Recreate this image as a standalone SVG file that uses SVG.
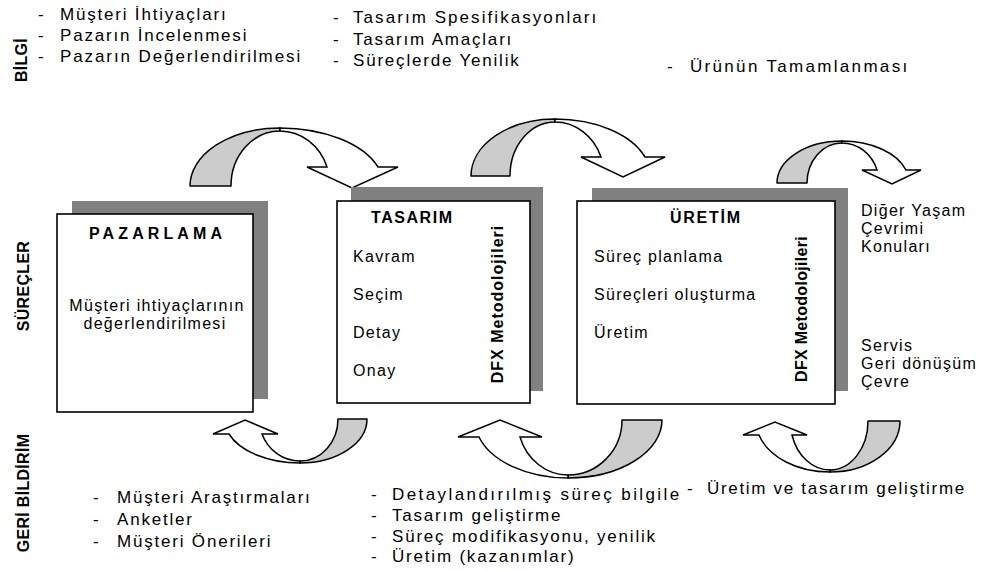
<svg xmlns="http://www.w3.org/2000/svg" width="983" height="571" viewBox="0 0 983 571">
<style>
text{font-family:"Liberation Sans",Arial,sans-serif;fill:#000}
.lst{font-size:17px;letter-spacing:1.8px}
.bx{font-size:16px;letter-spacing:1.3px}
.hd{font-size:16px;font-weight:bold}
.vl{font-size:16px;font-weight:bold;letter-spacing:0.3px}
.dfx{font-size:16px;font-weight:bold;letter-spacing:1px}
.shadow{fill:#808080}
.box{fill:#fff;stroke:#000;stroke-width:1.6}
.back{fill:#cccccc;stroke:#000;stroke-width:1.5;stroke-linejoin:round}
.front{fill:#fff;stroke:#000;stroke-width:1.5;stroke-linejoin:miter}
</style>
<rect width="983" height="571" fill="#fff"/>

<g id="labels">
<text class="vl" transform="translate(27,60) rotate(-90)" text-anchor="middle">BİLGİ</text>
<text class="vl" transform="translate(29,286) rotate(-90)" text-anchor="middle">SÜREÇLER</text>
<text class="vl" transform="translate(29,493) rotate(-90)" text-anchor="middle">GERİ BİLDİRİM</text>
</g>

<g id="info-market">
<text class="lst" x="38" y="20">-</text><text class="lst" x="60" y="20">Müşteri İhtiyaçları</text>
<text class="lst" x="38" y="41">-</text><text class="lst" x="60" y="41">Pazarın İncelenmesi</text>
<text class="lst" x="38" y="62">-</text><text class="lst" x="60" y="62" textLength="242" lengthAdjust="spacing">Pazarın Değerlendirilmesi</text>
</g>
<g id="info-design">
<text class="lst" x="333" y="23">-</text><text class="lst" x="353" y="23" textLength="245" lengthAdjust="spacing">Tasarım Spesifikasyonları</text>
<text class="lst" x="333" y="45">-</text><text class="lst" x="353" y="45">Tasarım Amaçları</text>
<text class="lst" x="333" y="66">-</text><text class="lst" x="353" y="66">Süreçlerde Yenilik</text>
</g>
<g id="info-product">
<text class="lst" x="667" y="72">-</text><text class="lst" x="690" y="72" textLength="219" lengthAdjust="spacing">Ürünün Tamamlanması</text>
</g>

<g id="connectors">
<path class="back" d="M190,186 A90,58 0 0 1 280,128 L280,131 A49,55 0 0 0 231,186 Z"/>
<path class="front" d="M280,128 A104,58 0 0 1 378,167 L398,167 L352,188 L307,167 L327,167 A50,54 0 0 0 280,131 Z"/>
<path class="back" d="M471,176 A84,57 0 0 1 555,119 L555,122 A45,54 0 0 0 510,176 Z"/>
<path class="front" d="M555,119 A95.4,57 0 0 1 645,157 L665,157 L623,177 L581,157 L601,157 A49.2,54 0 0 0 555,122 Z"/>
<path class="back" d="M777,183 A65,42 0 0 1 842,141 L842,143 A35,40 0 0 0 807,183 Z"/>
<path class="front" d="M842,141 A67.3,42 0 0 1 906,170 L921,170 L892,184 L862,170 L877,170 A37,40 0 0 0 842,143 Z"/>
<path class="back" d="M367,419 A67,44 0 0 1 300,463 L300,461 A38,42 0 0 0 338,419 Z"/>
<path class="front" d="M300,463 A75.5,44 0 0 1 229,434 L213,434 L245,420 L278,434 L262,434 A40.7,42 0 0 0 300,461 Z"/>
<path class="back" d="M662,420 A94,58 0 0 1 568,478 L568,475 A54,55 0 0 0 622,420 Z"/>
<path class="front" d="M568,478 A93.1,58 0 0 1 479,437 L458,437 L500,420 L542,437 L520,437 A50.5,55 0 0 0 568,475 Z"/>
<path class="back" d="M900,421 A70,51 0 0 1 830,472 L830,470 A38,49 0 0 0 868,421 Z"/>
<path class="front" d="M830,472 A73.8,51 0 0 1 759,435 L743,435 L775,422 L807,435 L792,435 A39.7,49 0 0 0 830,470 Z"/>
</g>

<g id="pazarlama">
<rect class="shadow" x="72" y="201" width="196" height="198"/>
<rect class="box" x="57" y="214" width="196" height="198"/>
<text class="hd" x="89" y="239" textLength="133" lengthAdjust="spacing">PAZARLAMA</text>
<text class="bx" x="157" y="311" text-anchor="middle">Müşteri ihtiyaçlarının</text>
<text class="bx" x="155" y="329" text-anchor="middle">değerlendirilmesi</text>
</g>

<g id="tasarim">
<rect class="shadow" x="351" y="187" width="192" height="204"/>
<rect class="box" x="337" y="201" width="193" height="202"/>
<text class="hd" x="371" y="223" textLength="81" lengthAdjust="spacing">TASARIM</text>
<text class="bx" x="353" y="262">Kavram</text>
<text class="bx" x="353" y="300">Seçim</text>
<text class="bx" x="353" y="338">Detay</text>
<text class="bx" x="353" y="376">Onay</text>
<text class="dfx" transform="translate(503,304) rotate(-90)" text-anchor="middle">DFX Metodolojileri</text>
</g>

<g id="uretim">
<rect class="shadow" x="592" y="188" width="256" height="203"/>
<rect class="box" x="577" y="201" width="258" height="203"/>
<text class="hd" x="670" y="223" textLength="70" lengthAdjust="spacing">ÜRETİM</text>
<text class="bx" x="594" y="262">Süreç planlama</text>
<text class="bx" x="594" y="300">Süreçleri oluşturma</text>
<text class="bx" x="594" y="338">Üretim</text>
<text class="dfx" transform="translate(807,309) rotate(-90)" text-anchor="middle" style="letter-spacing:0.3px">DFX Metodolojileri</text>
</g>

<g id="lifecycle">
<text class="bx" x="861" y="216">Diğer Yaşam</text>
<text class="bx" x="861" y="234">Çevrimi</text>
<text class="bx" x="861" y="252">Konuları</text>
<text class="bx" x="861" y="351">Servis</text>
<text class="bx" x="861" y="369">Geri dönüşüm</text>
<text class="bx" x="861" y="387">Çevre</text>
</g>

<g id="feedback-market">
<text class="lst" x="93" y="503">-</text><text class="lst" x="117" y="503">Müşteri Araştırmaları</text>
<text class="lst" x="93" y="525">-</text><text class="lst" x="117" y="525">Anketler</text>
<text class="lst" x="93" y="547">-</text><text class="lst" x="117" y="547">Müşteri Önerileri</text>
</g>
<g id="feedback-design">
<text class="lst" x="371" y="500">-</text><text class="lst" x="392" y="500" textLength="289" lengthAdjust="spacing">Detaylandırılmış süreç bilgile</text>
<text class="lst" x="371" y="521">-</text><text class="lst" x="392" y="521">Tasarım geliştirme</text>
<text class="lst" x="371" y="542">-</text><text class="lst" x="392" y="542">Süreç modifikasyonu, yenilik</text>
<text class="lst" x="371" y="562">-</text><text class="lst" x="392" y="562">Üretim (kazanımlar)</text>
</g>
<g id="feedback-production">
<text class="lst" x="687" y="494">-</text><text class="lst" x="707" y="494" textLength="259" lengthAdjust="spacing">Üretim ve tasarım geliştirme</text>
</g>
</svg>
